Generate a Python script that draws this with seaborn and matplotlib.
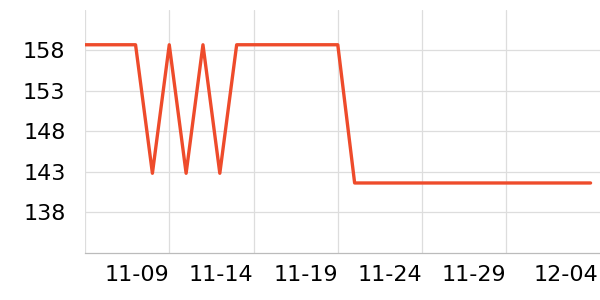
import matplotlib
matplotlib.use("Agg")
import matplotlib.pyplot as plt
import matplotlib.transforms as mtransforms
import seaborn as sns
import pandas as pd

dates = pd.date_range("2023-11-04", "2023-12-04", freq="D")
values = [158.7, 158.7, 158.7, 158.7, 142.8, 158.7, 142.8, 158.7, 142.8, 158.7,
          158.7, 158.7, 158.7, 158.7, 158.7, 158.7,
          141.6, 141.6, 141.6, 141.6, 141.6, 141.6, 141.6, 141.6, 141.6, 141.6,
          141.6, 141.6, 141.6, 141.6, 141.6]
y_ticks = [138, 143, 148, 153, 158]
x_ticks = ["2023-11-04", "2023-11-09", "2023-11-14", "2023-11-19", "2023-11-24", "2023-11-29", "2023-12-04"]
x_labels = ["", "11-09", "11-14", "11-19", "11-24", "11-29", "12-04"]

df = pd.DataFrame({"date": dates, "value": values})

sns.set_theme(style="white")
plt.rcParams["font.family"] = ["DejaVu Sans"]

fig = plt.figure(figsize=(6, 3), dpi=100)
ax = fig.add_axes([85/600, 47.5/300, 515/600, 242.5/300])
sns.lineplot(data=df, x="date", y="value", ax=ax, color="#EE4B2B", linewidth=2.4)

ax.set_ylim(133, 163)
ax.set_yticks(y_ticks)
ax.set_yticklabels([str(t) for t in y_ticks])
xt = pd.to_datetime(x_ticks)
ax.set_xticks(xt)
ax.set_xticklabels(x_labels, ha="right")
ax.set_xlim(pd.Timestamp("2023-11-04"), pd.Timestamp("2023-11-04") + pd.Timedelta(days=30.56))

ax.grid(True, color="#dddddd", linewidth=0.9)
ax.set_axisbelow(True)
for s in ["top", "right", "left"]:
    ax.spines[s].set_visible(False)
ax.spines["bottom"].set_color("#bbbbbb")
ax.spines["bottom"].set_linewidth(0.9)
ax.tick_params(axis="both", labelsize=16, colors="#bbbbbb", labelcolor="black", length=3, width=0.9)
ax.tick_params(axis="y", pad=12, length=2)
ax.tick_params(axis="x", pad=6)
ax.set_xlabel("")
ax.set_ylabel("")

last = ax.xaxis.get_major_ticks()[-1]
last.tick1line.set_visible(False)
last.gridline.set_visible(False)
lbl = last.label1
lbl.set_transform(lbl.get_transform() + mtransforms.ScaledTranslation(8/100, 0, fig.dpi_scale_trans))

fig.savefig("out.png", dpi=100)
